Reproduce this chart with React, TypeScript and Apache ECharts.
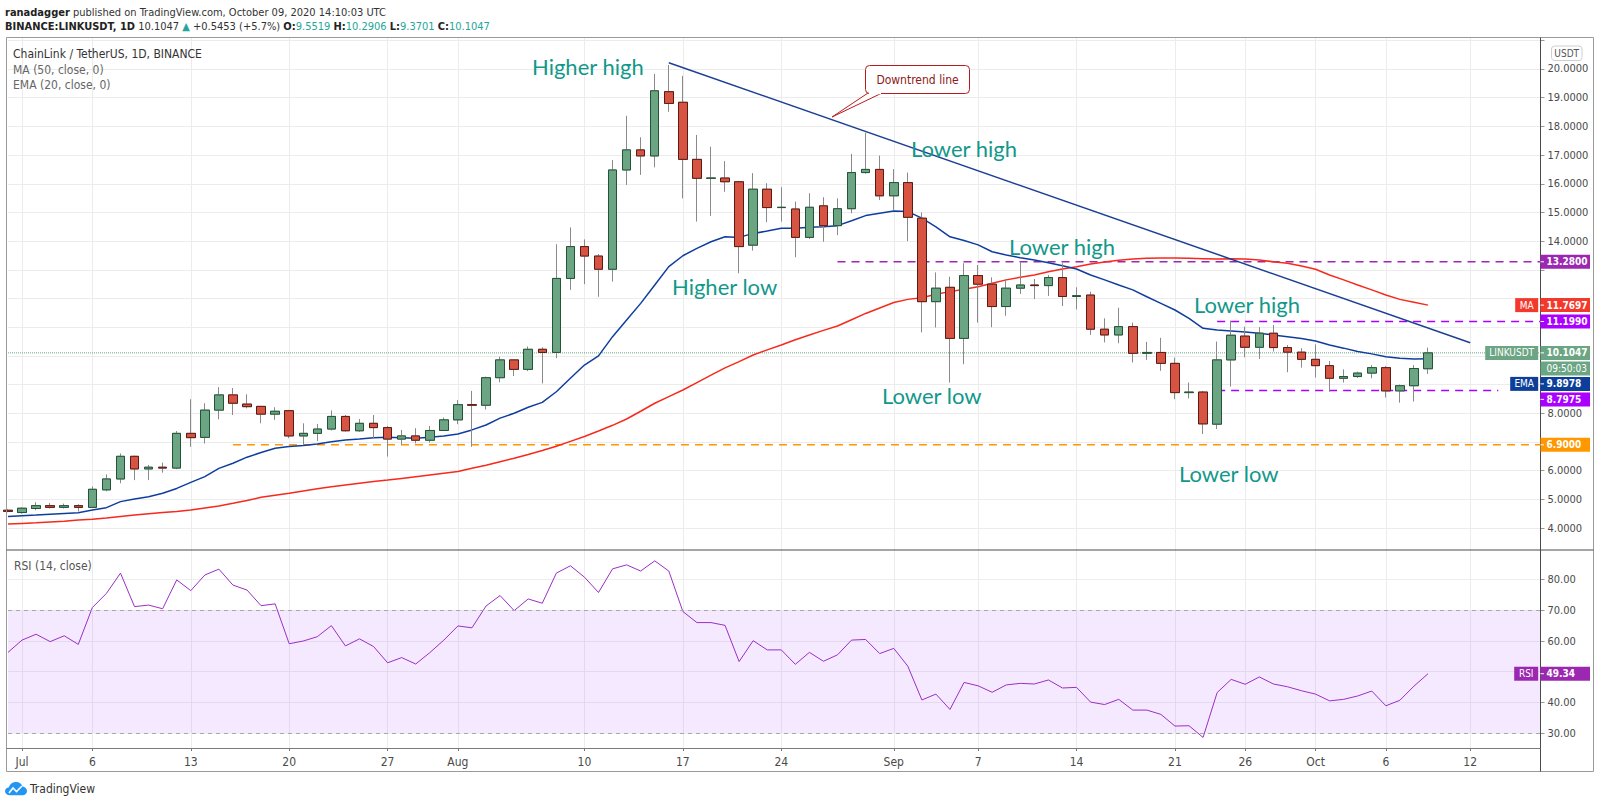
import React, { useEffect, useRef } from 'react';
import * as echarts from 'echarts';

// ---------------- Data ----------------
const AXIS_DAYS = 110; // 2020-06-30 .. 2020-10-17
function dayString(i: number): string {
  const d = new Date(Date.UTC(2020, 5, 30 + i));
  return d.toISOString().slice(0, 10);
}
const categories: string[] = Array.from({ length: AXIS_DAYS }, (_, i) => dayString(i));

const tickLabels: Record<string, string> = {
  '2020-07-01': 'Jul', '2020-07-06': '6', '2020-07-13': '13', '2020-07-20': '20', '2020-07-27': '27',
  '2020-08-01': 'Aug', '2020-08-10': '10', '2020-08-17': '17', '2020-08-24': '24',
  '2020-09-01': 'Sep', '2020-09-07': '7', '2020-09-14': '14', '2020-09-21': '21', '2020-09-26': '26',
  '2020-10-01': 'Oct', '2020-10-06': '6', '2020-10-12': '12',
};

// [open, high, low, close] from 2020-06-30
const ohlc: number[][] = [
  [4.62, 4.66, 4.55, 4.58],
  // Jul
  [4.54, 4.72, 4.50, 4.69], [4.68, 4.90, 4.62, 4.78], [4.78, 4.87, 4.68, 4.72], [4.72, 4.85, 4.68, 4.78],
  [4.78, 4.83, 4.58, 4.72], [4.72, 5.45, 4.70, 5.35], [5.33, 5.87, 5.28, 5.71], [5.71, 6.60, 5.56, 6.50],
  [6.50, 6.52, 5.67, 6.06], [6.06, 6.20, 5.67, 6.12], [6.12, 6.28, 5.93, 6.09], [6.09, 7.38, 6.05, 7.30],
  [7.30, 8.49, 6.83, 7.15], [7.16, 8.35, 6.95, 8.11], [8.11, 8.91, 7.79, 8.64], [8.64, 8.88, 7.94, 8.35],
  [8.32, 8.66, 8.17, 8.23], [8.24, 8.26, 7.65, 7.97], [7.97, 8.21, 7.77, 8.07], [8.09, 8.12, 7.13, 7.21],
  [7.21, 7.65, 6.89, 7.30], [7.30, 7.63, 7.03, 7.45], [7.45, 8.10, 7.40, 7.89], [7.89, 7.94, 7.36, 7.39],
  [7.39, 7.80, 7.35, 7.65], [7.65, 7.94, 7.13, 7.50], [7.50, 7.56, 6.49, 7.10], [7.10, 7.42, 6.89, 7.21],
  [7.21, 7.48, 6.95, 7.06], [7.06, 7.56, 6.98, 7.40], [7.40, 7.85, 7.38, 7.77],
  // Aug
  [7.77, 8.46, 7.62, 8.30], [8.30, 8.78, 6.83, 8.28], [8.28, 9.28, 8.13, 9.24], [9.24, 9.97, 9.08, 9.86],
  [9.86, 9.88, 9.30, 9.53], [9.53, 10.33, 9.47, 10.23], [10.23, 10.30, 9.04, 10.12], [10.12, 13.89, 9.92, 12.70],
  [12.70, 14.48, 12.30, 13.81], [13.81, 14.06, 12.50, 13.48], [13.48, 13.55, 12.06, 13.02], [13.02, 16.83, 12.59, 16.48],
  [16.48, 18.37, 15.96, 17.18], [17.18, 17.62, 16.31, 16.97], [16.97, 19.83, 16.57, 19.24], [19.21, 20.14, 18.51, 18.80],
  [18.84, 19.76, 15.49, 16.85], [16.85, 17.70, 14.68, 16.19], [16.19, 17.29, 14.88, 16.20], [16.20, 16.79, 15.72, 16.07],
  [16.07, 16.10, 12.88, 13.81], [13.86, 16.37, 13.67, 15.81], [15.81, 16.02, 14.66, 15.17], [15.17, 15.88, 14.68, 15.18],
  [15.12, 15.38, 13.44, 14.13], [14.13, 15.67, 14.07, 15.18], [15.23, 15.53, 13.98, 14.54], [14.54, 15.49, 14.21, 15.13],
  [15.13, 17.04, 14.97, 16.39], [16.39, 17.78, 16.35, 16.50], [16.50, 16.98, 15.43, 15.58],
  // Sep
  [15.58, 16.51, 15.09, 16.04], [16.04, 16.39, 14.00, 14.83], [14.80, 15.00, 10.82, 11.89], [11.89, 12.91, 10.99, 12.36],
  [12.39, 12.76, 9.07, 10.61], [10.61, 13.23, 9.71, 12.80], [12.80, 13.17, 11.16, 12.50], [12.50, 12.74, 11.00, 11.72],
  [11.72, 12.67, 11.40, 12.36], [12.36, 13.28, 12.16, 12.47], [12.47, 12.68, 11.98, 12.45], [12.45, 12.82, 12.09, 12.73],
  [12.73, 13.23, 11.74, 12.07], [12.07, 12.39, 11.62, 12.10], [12.12, 12.24, 10.73, 10.93], [10.93, 11.31, 10.47, 10.73],
  [10.73, 11.68, 10.44, 11.02], [11.02, 11.16, 9.77, 10.09], [10.09, 10.49, 9.86, 10.12], [10.12, 10.63, 9.48, 9.74],
  [9.74, 9.94, 8.49, 8.72], [8.72, 9.07, 8.52, 8.74], [8.74, 8.78, 7.28, 7.63], [7.62, 10.50, 7.45, 9.86],
  [9.86, 11.23, 8.93, 10.72], [10.69, 11.02, 9.95, 10.30], [10.30, 11.00, 9.89, 10.79], [10.79, 11.08, 10.15, 10.29],
  [10.29, 10.38, 9.43, 10.13], [10.13, 10.27, 9.59, 9.88],
  // Oct
  [9.88, 10.40, 9.25, 9.66], [9.66, 9.82, 8.75, 9.22], [9.22, 9.53, 9.07, 9.28], [9.28, 9.45, 9.23, 9.40],
  [9.40, 9.68, 9.22, 9.59], [9.59, 9.65, 8.55, 8.78], [8.78, 9.00, 8.37, 8.96], [8.96, 9.68, 8.41, 9.5594],
  [9.5519, 10.2906, 9.3701, 10.1047],
];

const ma50: number[] = [
  4.14,
  4.16, 4.18, 4.21, 4.24, 4.28, 4.31, 4.35, 4.40, 4.45, 4.50, 4.54, 4.58, 4.63, 4.70, 4.77, 4.86,
  4.96, 5.07, 5.14, 5.21, 5.29, 5.37, 5.44, 5.50, 5.56, 5.62, 5.67, 5.73, 5.79, 5.85, 5.91,
  5.97, 6.08, 6.19, 6.31, 6.43, 6.56, 6.70, 6.85, 7.02, 7.19, 7.38, 7.58, 7.80, 8.07, 8.35, 8.58,
  8.81, 9.07, 9.33, 9.58, 9.80, 10.03, 10.21, 10.38, 10.56, 10.73, 10.89, 11.04, 11.26, 11.48, 11.67,
  11.86, 11.97, 12.03, 12.15, 12.24, 12.32, 12.41, 12.53, 12.65, 12.74, 12.82, 12.93, 13.03, 13.11, 13.20,
  13.27, 13.33, 13.38, 13.40, 13.41, 13.41, 13.40, 13.39, 13.38, 13.39, 13.38, 13.34, 13.28, 13.23, 13.13,
  13.02, 12.82, 12.65, 12.47, 12.30, 12.12, 11.97, 11.87, 11.7697,
];

const ema20: number[] = [
  4.40,
  4.43, 4.45, 4.48, 4.51, 4.53, 4.63, 4.71, 4.92, 5.01, 5.09, 5.21, 5.38, 5.59, 5.79, 6.08, 6.26,
  6.47, 6.63, 6.78, 6.84, 6.88, 6.93, 7.01, 7.07, 7.10, 7.15, 7.16, 7.15, 7.13, 7.16, 7.21,
  7.28, 7.42, 7.59, 7.83, 8.00, 8.21, 8.38, 8.75, 9.22, 9.68, 10.00, 10.67, 11.25, 11.83, 12.47, 13.11,
  13.49, 13.75, 13.98, 14.15, 14.13, 14.27, 14.35, 14.45, 14.45, 14.48, 14.50, 14.54, 14.71, 14.89, 14.97,
  15.05, 15.03, 14.80, 14.50, 14.15, 14.02, 13.87, 13.63, 13.52, 13.42, 13.34, 13.25, 13.14, 13.03, 12.82,
  12.65, 12.47, 12.30, 12.06, 11.83, 11.60, 11.31, 10.96, 10.90, 10.87, 10.83, 10.79, 10.73, 10.67, 10.61,
  10.52, 10.38, 10.27, 10.15, 10.07, 9.97, 9.92, 9.89, 9.8978,
];

const rsi14: number[] = [
  56.3,
  60.3, 62.2, 59.8, 61.7, 58.9, 70.9, 75.5, 82.1, 71.2, 71.7, 70.5, 79.9, 76.4, 81.5, 83.4, 78.2,
  76.6, 71.5, 72.1, 59.1, 60.0, 61.4, 65.0, 58.4, 60.7, 58.2, 52.9, 54.6, 52.5, 56.2, 60.3,
  64.9, 64.3, 71.4, 74.8, 69.9, 73.7, 72.3, 82.1, 84.5, 80.8, 75.8, 83.5, 84.8, 82.8, 86.1, 82.8,
  69.6, 66.0, 66.0, 65.1, 53.3, 60.1, 57.1, 57.1, 52.4, 56.3, 53.4, 55.5, 60.3, 60.5, 55.9,
  57.6, 51.8, 40.8, 42.7, 37.7, 46.5, 45.4, 43.3, 45.7, 46.2, 46.0, 47.3, 44.7, 44.9, 40.1,
  39.3, 41.0, 37.5, 37.5, 36.1, 32.3, 32.4, 28.6, 43.2, 47.5, 45.9, 48.3, 46.0, 45.1, 43.8,
  42.7, 40.5, 41.0, 42.1, 43.7, 38.9, 40.7, 45.3, 49.34,
];

const trendLine: [string, number][] = [['2020-08-16', 20.22], ['2020-10-12', 10.46]];

const levels = [
  { price: 13.28, from: '2020-08-28', to: '2020-10-17', color: '#9c27b0' },
  { price: 11.199, from: '2020-09-24', to: '2020-10-17', color: '#aa00ff' },
  { price: 8.7975, from: '2020-09-24', to: '2020-10-14', color: '#aa00ff' },
  { price: 6.9, from: '2020-07-16', to: '2020-10-17', color: '#ff9800' },
];

const priceTags = [
  { value: 13.28, color: '#9c27b0', name: '', extra: '' },
  { value: 11.7697, color: '#f2392c', name: 'MA', extra: '' },
  { value: 11.199, color: '#aa00ff', name: '', extra: '' },
  { value: 10.1047, color: '#6ba583', name: 'LINKUSDT', extra: '09:50:03' },
  { value: 9.8978, color: '#0d3f9a', name: 'EMA', extra: '' },
  { value: 8.7975, color: '#aa00ff', name: '', extra: '' },
  { value: 6.9, color: '#ff9800', name: '', extra: '' },
];
const rsiTag = { value: 49.34, color: '#9c27b0', name: 'RSI' };

const annotations = [
  { text: 'Higher high', x: 532, y: 66 },
  { text: 'Higher low', x: 672, y: 286 },
  { text: 'Lower high', x: 911, y: 148 },
  { text: 'Lower high', x: 1009, y: 246 },
  { text: 'Lower high', x: 1194, y: 304 },
  { text: 'Lower low', x: 882, y: 395 },
  { text: 'Lower low', x: 1179, y: 473 },
];

// ---------------- Layout / style ----------------
const FONT_N = "'Liberation Sans Narrow', 'DejaVu Sans Condensed', Roboto, sans-serif";
const FONT_A = "Lato, 'Open Sans', sans-serif";
const GRID_L = 8;
const AXIS_X = 1540.5;
const MAIN_TOP = 38, MAIN_H = 512;
const RSI_TOP = 550, RSI_H = 198;
const UP = '#6ba583', DOWN = '#d75442', UP_B = '#225437', DOWN_B = '#5b1a13', WICK = '#8a8a8a';
const TEAL = '#12988a';
const TAG_STEP = 15.5;
const MAIN_TICKS = [4, 5, 6, 7, 8, 9, 10, 11, 12, 13, 14, 15, 16, 17, 18, 19, 20];
const RSI_TICKS = [30, 40, 50, 60, 70, 80];

const isTick = (_i: number, v: string) => v in tickLabels;

function buildOption(): any {
  const last = ohlc[ohlc.length - 1];
  return {
    animation: false,
    grid: [
      { left: GRID_L, right: 1600 - AXIS_X, top: MAIN_TOP, height: MAIN_H },
      { left: GRID_L, right: 1600 - AXIS_X, top: RSI_TOP, height: RSI_H },
    ],
    xAxis: [
      {
        type: 'category', gridIndex: 0, data: categories, boundaryGap: false,
        axisLine: { show: false }, axisTick: { show: false }, axisLabel: { show: false },
        splitLine: { show: true, interval: isTick, lineStyle: { color: '#ececec', width: 1 } },
      },
      {
        type: 'category', gridIndex: 1, data: categories, boundaryGap: false,
        axisLine: { show: false },
        axisTick: { show: true, interval: isTick, length: 3, lineStyle: { color: '#777' } },
        axisLabel: {
          show: true, interval: isTick, formatter: (v: string) => tickLabels[v] || '',
          color: '#4a4a4a', fontSize: 12, fontFamily: FONT_N, margin: 8,
        },
        splitLine: { show: true, interval: isTick, lineStyle: { color: '#ececec', width: 1 } },
      },
    ],
    yAxis: [
      {
        type: 'value', gridIndex: 0, position: 'right', min: 3.234, max: 21.0805, splitNumber: 18,
        axisLine: { show: false },
        axisTick: { show: true, length: 4, lineStyle: { color: '#999' } },
        axisLabel: {
          show: true, margin: 7, color: '#4a4a4a', fontSize: 11, fontFamily: FONT_N,
          showMinLabel: false, showMaxLabel: false,
          formatter: (v: number) => (v >= 3.9 && v <= 20.1 ? v.toFixed(4) : ''),
        },
        splitLine: { show: true, showMinLine: false, showMaxLine: false, lineStyle: { color: '#ececec' } },
      },
      {
        type: 'value', gridIndex: 1, position: 'right', min: 25.15, max: 89.64, splitNumber: 6,
        axisLine: { show: false },
        axisTick: { show: true, length: 4, lineStyle: { color: '#999' } },
        axisLabel: {
          show: true, margin: 7, color: '#4a4a4a', fontSize: 11, fontFamily: FONT_N,
          showMinLabel: false, showMaxLabel: false,
          formatter: (v: number) => v.toFixed(2),
        },
        splitLine: { show: true, showMinLine: false, showMaxLine: false, lineStyle: { color: 'rgba(0,0,0,0.065)' } },
      },
    ],
    series: [
      ...levels.map((l) => ({
        type: 'line', xAxisIndex: 0, yAxisIndex: 0, silent: true, symbol: 'none', z: 3,
        data: [[l.from, l.price], [l.to, l.price]],
        lineStyle: { color: l.color, width: 1.5, type: [8, 6] },
      })),
      {
        type: 'line', xAxisIndex: 0, yAxisIndex: 0, silent: true, symbol: 'none', z: 3,
        data: [[categories[0], last[3]], [categories[AXIS_DAYS - 1], last[3]]],
        lineStyle: { color: '#6ba583', width: 1, type: 'dotted' },
      },
      {
        type: 'line', name: 'MA', xAxisIndex: 0, yAxisIndex: 0, silent: true, symbol: 'none', z: 4,
        data: ma50, lineStyle: { color: '#f7291c', width: 1.5 },
      },
      {
        type: 'line', name: 'EMA', xAxisIndex: 0, yAxisIndex: 0, silent: true, symbol: 'none', z: 4,
        data: ema20, lineStyle: { color: '#0f3d9e', width: 1.5 },
      },
      {
        type: 'candlestick', xAxisIndex: 0, yAxisIndex: 0, silent: true, barWidth: 9, z: 5,
        data: ohlc.map(([o, h, l, c]) => [o, c, l, h]),
        itemStyle: { color: UP, color0: DOWN, borderColor: WICK, borderColor0: WICK, borderWidth: 1 },
      },
      {
        type: 'candlestick', xAxisIndex: 0, yAxisIndex: 0, silent: true, barWidth: 9, z: 6,
        data: ohlc.map(([o, , , c]) => [o, c, Math.min(o, c), Math.max(o, c)]),
        itemStyle: { color: UP, color0: DOWN, borderColor: UP_B, borderColor0: DOWN_B, borderWidth: 1 },
      },
      {
        type: 'line', xAxisIndex: 0, yAxisIndex: 0, silent: true, symbol: 'none', z: 7,
        data: trendLine, lineStyle: { color: '#1c3f94', width: 1.5 },
      },
      {
        type: 'line', name: 'RSI', xAxisIndex: 1, yAxisIndex: 1, silent: true, symbol: 'none', z: 4,
        data: rsi14, lineStyle: { color: '#9b2fc4', width: 1 },
        markArea: {
          silent: true,
          itemStyle: { color: 'rgba(156, 39, 255, 0.10)' },
          data: [[{ yAxis: 30 }, { yAxis: 70 }]],
        },
        markLine: {
          silent: true, symbol: 'none', label: { show: false },
          lineStyle: { color: '#a8a8a8', width: 1, type: [4, 4] },
          data: [{ yAxis: 70 }, { yAxis: 30 }],
        },
      },
    ],
  };
}

echarts.graphic.registerShape(
  'tvlogo',
  echarts.graphic.extendPath(
    'M5 14 C2 14 0 12 0 9.5 C0 7.2 1.8 5.6 4 5.4 C4.8 2.3 7.6 0 11 0 C14.2 0 16.8 2 17.6 4.8 C20 5.1 22 7 22 9.5 C22 12 20 14 17.5 14 Z',
    {}
  ) as any
);

function tag(x: number, y: number, w: number, color: string, text: string, align: string, bold: boolean, els: any[]) {
  els.push({ type: 'rect', z: 100, shape: { x, y: y - 7, width: w, height: 14 }, style: { fill: color } });
  els.push({
    type: 'text', z: 101, x: align === 'center' ? x + w / 2 : x + 6, y,
    style: { text, fill: '#fff', font: `${bold ? 'bold ' : ''}10px ${FONT_N}`, align, verticalAlign: 'middle' },
  });
}

function computeSlots(chart: any) {
  const slots = priceTags.map((t) => ({ ...t, y: chart.convertToPixel({ yAxisIndex: 0 }, t.value) as number }));
  slots.sort((a, b) => a.y - b.y);
  let prevY = -Infinity;
  for (const s of slots) {
    s.y = Math.max(s.y, prevY + TAG_STEP);
    prevY = s.y + (s.extra ? TAG_STEP : 0);
  }
  return slots;
}

function buildGraphics(chart: any, slots: any[], ry: number): any[] {
  const els: any[] = [];
  const last = ohlc[ohlc.length - 1];
  const prev = ohlc[ohlc.length - 2];
  const chg = last[3] - prev[3];
  const pct = (chg / prev[3]) * 100;

  // header
  els.push({
    type: 'text', x: 5, y: 12, z: 100,
    style: {
      text: '{b|ranadagger} published on TradingView.com, October 09, 2020 14:10:03 UTC',
      font: `11px ${FONT_N}`, fill: '#333', verticalAlign: 'middle',
      rich: { b: { font: `bold 11px ${FONT_N}`, fill: '#222' } },
    },
  });
  els.push({
    type: 'text', x: 5, y: 26, z: 100,
    style: {
      text: `{b|BINANCE:LINKUSDT, 1D} ${last[3].toFixed(4)} {g|\u25B2} +${chg.toFixed(4)} (+${pct.toFixed(1)}%) {b|O:}{g|${last[0].toFixed(4)}} {b|H:}{g|${last[1].toFixed(4)}} {b|L:}{g|${last[2].toFixed(4)}} {b|C:}{g|${last[3].toFixed(4)}}`,
      font: `11px ${FONT_N}`, fill: '#333', verticalAlign: 'middle',
      rich: {
        b: { font: `bold 11px ${FONT_N}`, fill: '#222' },
        g: { font: `11px ${FONT_N}`, fill: '#26a69a' },
      },
    },
  });

  // frame
  els.push({ type: 'rect', z: 90, shape: { x: 6.5, y: 37.5, width: 1587, height: 734 }, style: { fill: 'none', stroke: '#9a9a9a', lineWidth: 1 } });
  els.push({ type: 'line', z: 91, shape: { x1: 6.5, y1: 550, x2: 1593.5, y2: 550 }, style: { stroke: '#4a4a4a', lineWidth: 1 } });
  els.push({ type: 'line', z: 91, shape: { x1: AXIS_X, y1: 37.5, x2: AXIS_X, y2: 771.5 }, style: { stroke: '#4a4a4a', lineWidth: 1 } });
  els.push({ type: 'line', z: 91, shape: { x1: 6.5, y1: 748.5, x2: AXIS_X, y2: 748.5 }, style: { stroke: '#7a7a7a', lineWidth: 1 } });

  // legend
  els.push({ type: 'text', x: 13, y: 54, z: 100, style: { text: 'ChainLink / TetherUS, 1D, BINANCE', font: `12px ${FONT_N}`, fill: '#333', verticalAlign: 'middle' } });
  els.push({ type: 'text', x: 13, y: 70, z: 100, style: { text: 'MA (50, close, 0)', font: `12px ${FONT_N}`, fill: '#666', verticalAlign: 'middle' } });
  els.push({ type: 'text', x: 13, y: 85, z: 100, style: { text: 'EMA (20, close, 0)', font: `12px ${FONT_N}`, fill: '#666', verticalAlign: 'middle' } });
  els.push({ type: 'text', x: 14, y: 566, z: 100, style: { text: 'RSI (14, close)', font: `12px ${FONT_N}`, fill: '#555', verticalAlign: 'middle' } });

  // USDT box
  els.push({ type: 'rect', z: 100, shape: { x: 1551.5, y: 46, width: 30.5, height: 14.5, r: 3 }, style: { fill: '#fff', stroke: '#cfcfcf' } });
  els.push({ type: 'text', z: 101, x: 1566.7, y: 53.3, style: { text: 'USDT', font: `10px ${FONT_N}`, fill: '#555', align: 'center', verticalAlign: 'middle' } });

  // price tags
  const nameW: Record<string, number> = { MA: 23, LINKUSDT: 53, EMA: 28, RSI: 24 };
  for (const s of slots) {
    tag(AXIS_X, s.y, 49.5, s.color, s.value.toFixed(4), 'left', true, els);
    els.push({ type: 'line', z: 102, shape: { x1: AXIS_X, y1: s.y, x2: AXIS_X + 3.5, y2: s.y }, style: { stroke: '#fff' } });
    if (s.name) {
      const w = nameW[s.name];
      tag(AXIS_X - 2.3 - w, s.y, w, s.color, s.name, 'center', false, els);
    }
    if (s.extra) {
      tag(AXIS_X, s.y + TAG_STEP, 49.5, s.color, s.extra, 'left', false, els);
    }
  }
  tag(AXIS_X, ry, 49.5, rsiTag.color, rsiTag.value.toFixed(2), 'left', true, els);
  els.push({ type: 'line', z: 102, shape: { x1: AXIS_X, y1: ry, x2: AXIS_X + 3.5, y2: ry }, style: { stroke: '#fff' } });
  tag(AXIS_X - 2.3 - nameW.RSI, ry, nameW.RSI, rsiTag.color, rsiTag.name, 'center', false, els);

  // annotations
  for (const a of annotations) {
    els.push({ type: 'text', z: 100, x: a.x, y: a.y, style: { text: a.text, font: `22px ${FONT_A}`, fill: TEAL, verticalAlign: 'middle' } });
  }

  // callout
  els.push({ type: 'polygon', z: 100, shape: { points: [[868, 93], [832, 117], [882, 93]] }, style: { fill: '#fff', stroke: '#b71c1c', lineWidth: 1 } });
  els.push({ type: 'rect', z: 101, shape: { x: 865.5, y: 65.5, width: 104, height: 28, r: 4 }, style: { fill: '#fff', stroke: '#b71c1c', lineWidth: 1 } });
  els.push({ type: 'line', z: 102, shape: { x1: 869, y1: 93.5, x2: 881, y2: 93.5 }, style: { stroke: '#fff', lineWidth: 1.5 } });
  els.push({ type: 'text', z: 103, x: 917.5, y: 79.5, style: { text: 'Downtrend line', font: `12px ${FONT_N}`, fill: '#8b1a1a', align: 'center', verticalAlign: 'middle' } });

  // TradingView logo
  els.push({ type: 'tvlogo', z: 100, x: 5, y: 782, scaleX: 1, scaleY: 0.95, style: { fill: '#2196f3' } });
  els.push({ type: 'polyline', z: 101, shape: { points: [[9, 793], [13, 788], [16.5, 791.5], [22, 786]] }, style: { stroke: '#fff', lineWidth: 1.6, fill: 'none' } });
  els.push({ type: 'text', z: 100, x: 30, y: 789, style: { text: 'TradingView', font: `12px ${FONT_N}`, fill: '#333', verticalAlign: 'middle' } });

  return els;
}

export default function App() {
  const ref = useRef<HTMLDivElement>(null);
  useEffect(() => {
    document.body.style.margin = '0';
    const chart = echarts.init(ref.current as HTMLDivElement, undefined, { renderer: 'svg', width: 1600, height: 805 });
    chart.setOption(buildOption());

    const slots = computeSlots(chart);
    const ry = chart.convertToPixel({ yAxisIndex: 1 }, rsiTag.value) as number;
    // axis labels hidden behind the price tags
    const slotYs: number[] = [];
    for (const s of slots) { slotYs.push(s.y); if (s.extra) slotYs.push(s.y + TAG_STEP); }
    const hiddenMain = new Set<number>();
    for (const v of MAIN_TICKS) {
      const py = chart.convertToPixel({ yAxisIndex: 0 }, v) as number;
      if (slotYs.some((y) => Math.abs(y - py) < 12)) hiddenMain.add(v);
    }
    const hiddenRsi = new Set<number>();
    for (const v of RSI_TICKS) {
      const py = chart.convertToPixel({ yAxisIndex: 1 }, v) as number;
      if (Math.abs(py - ry) < 12) hiddenRsi.add(v);
    }

    chart.setOption({
      yAxis: [
        { axisLabel: { formatter: (v: number) => (v >= 3.9 && v <= 20.1 && !hiddenMain.has(Math.round(v)) ? v.toFixed(4) : '') } },
        { axisLabel: { formatter: (v: number) => (hiddenRsi.has(Math.round(v)) ? '' : v.toFixed(2)) } },
      ],
      graphic: { elements: buildGraphics(chart, slots, ry) },
    });
    return () => chart.dispose();
  }, []);
  return <div ref={ref} style={{ width: 1600, height: 805, background: '#fff' }} />;
}
